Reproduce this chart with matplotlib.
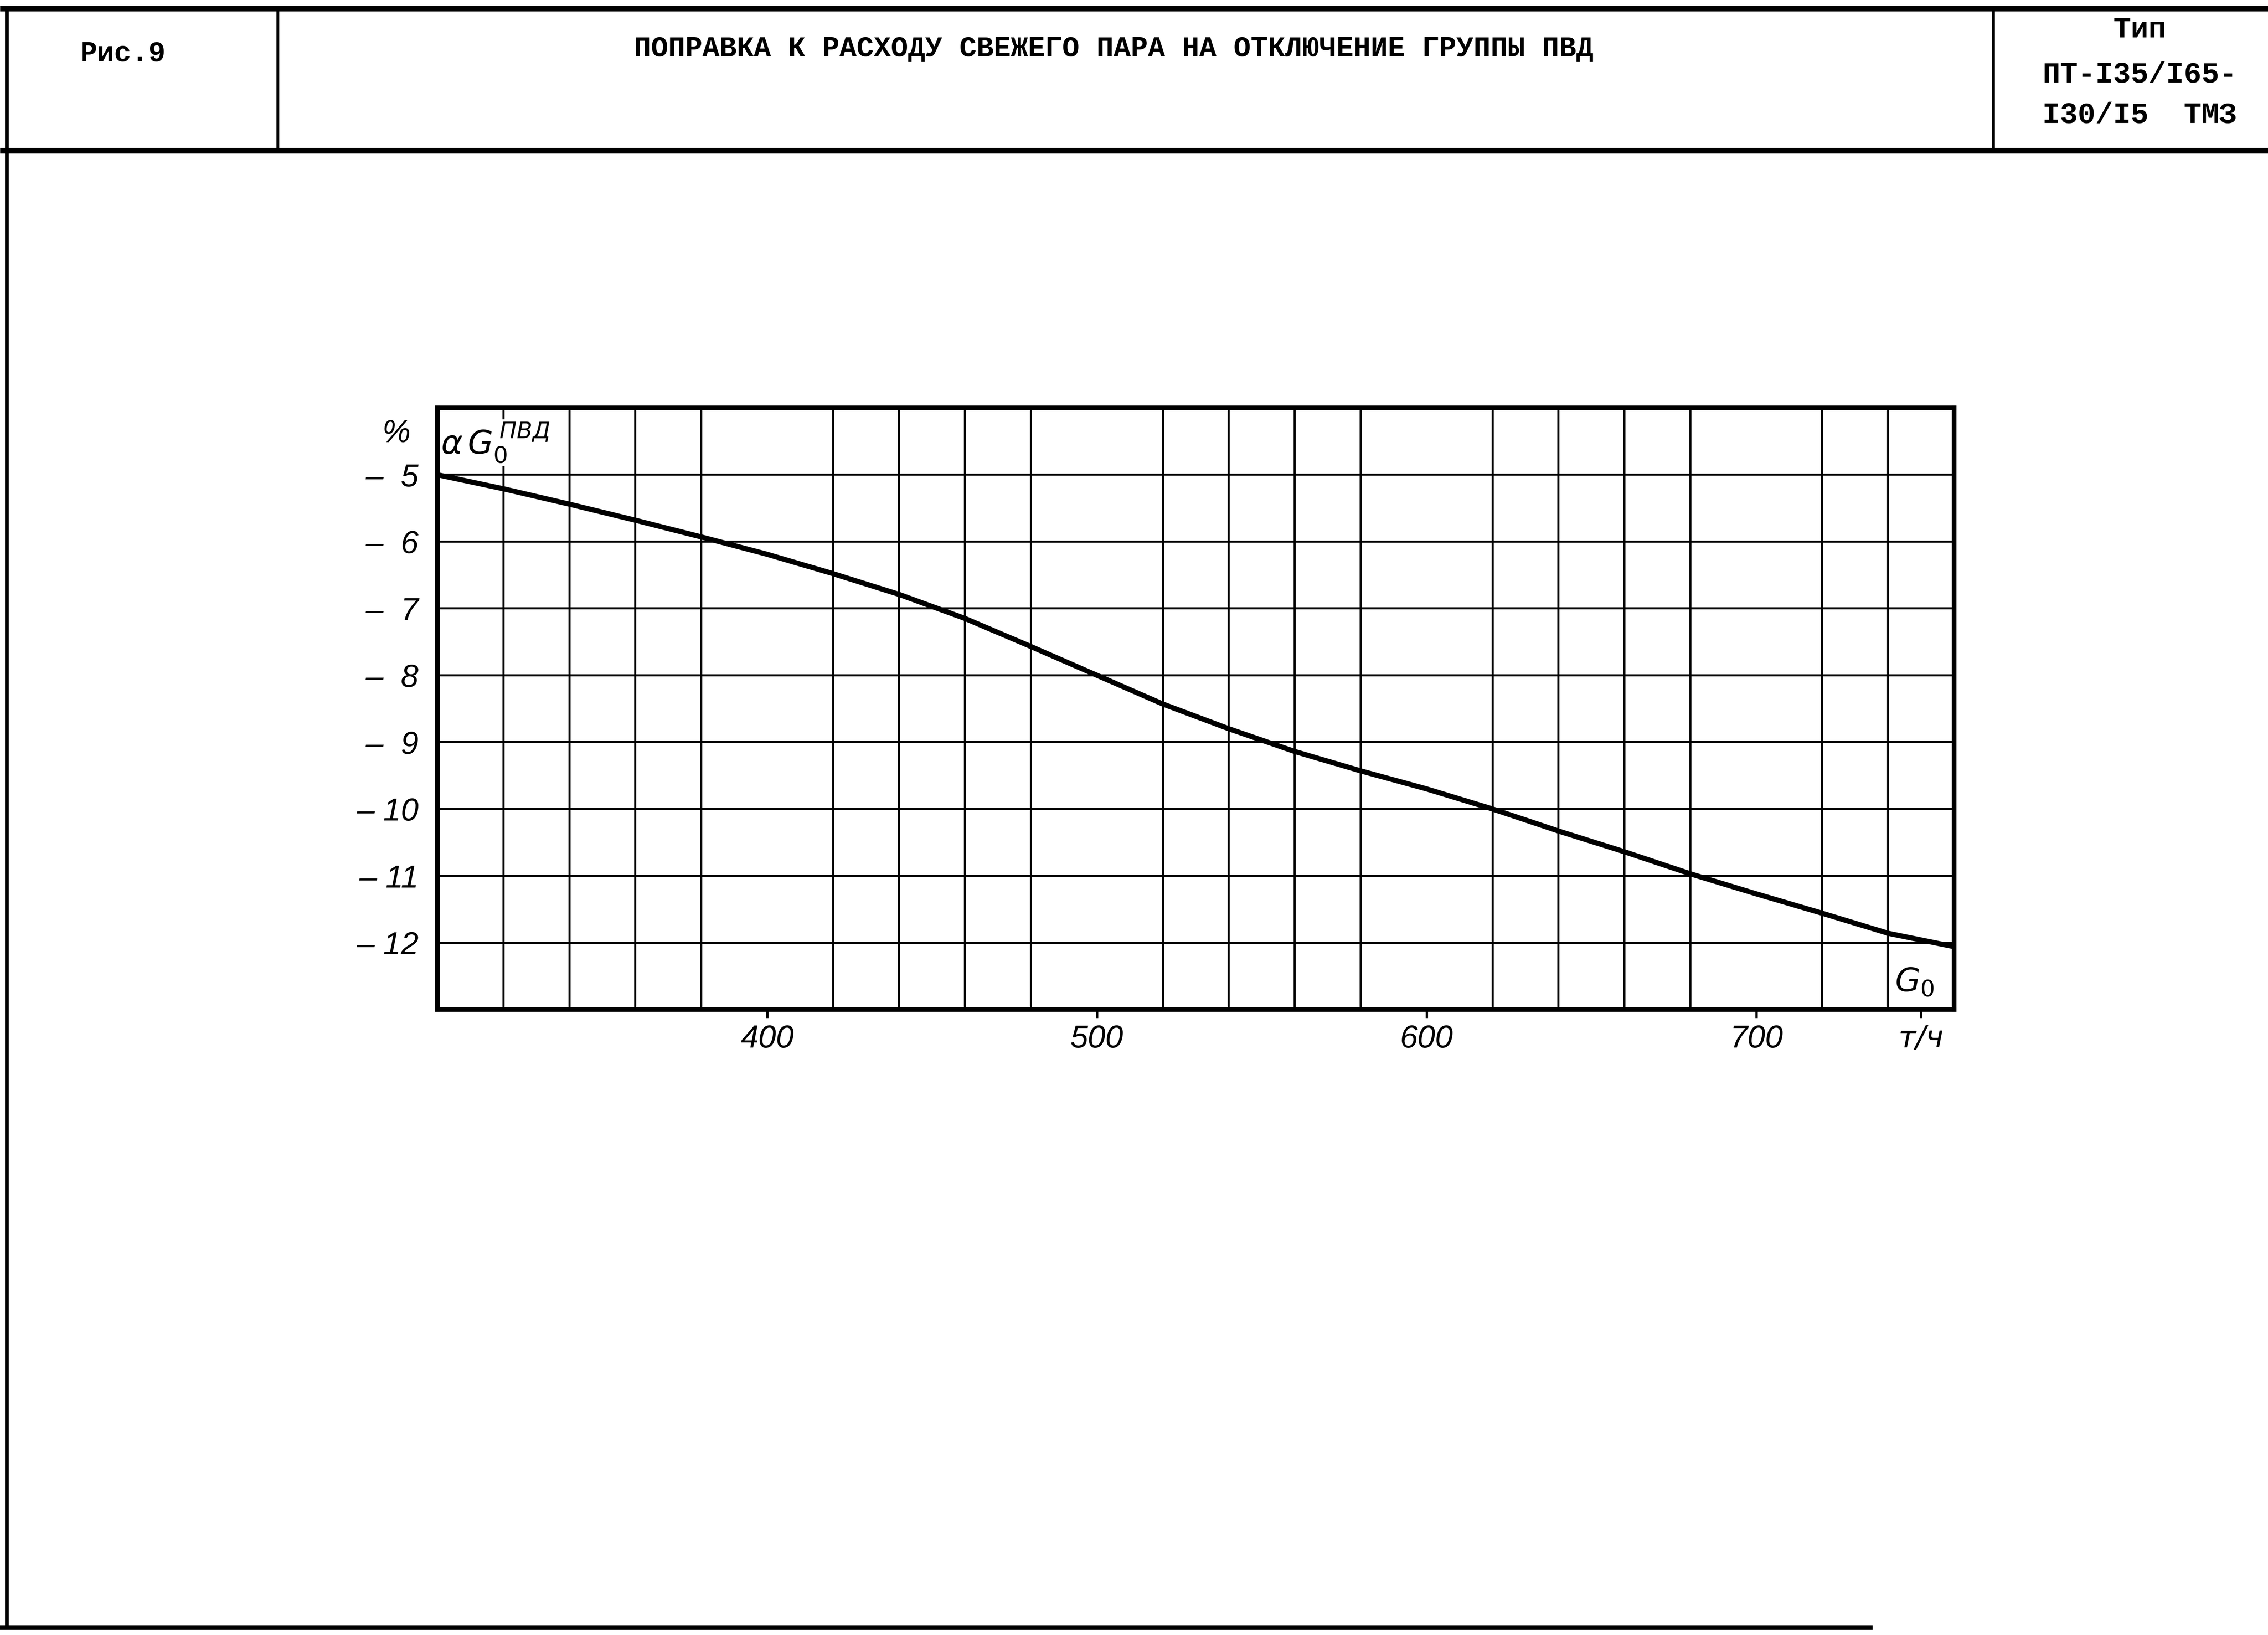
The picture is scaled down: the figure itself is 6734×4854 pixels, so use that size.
import matplotlib
matplotlib.use('Agg')
import matplotlib.pyplot as plt
from matplotlib.lines import Line2D
from matplotlib import ticker

# кривая поправки
g0 = [300, 320, 340, 360, 380, 400, 420, 440, 460, 480, 500, 520,
      540, 560, 580, 600, 620, 640, 660, 680, 700, 720, 740, 760]
dg0 = [-5.0, -5.21, -5.44, -5.68, -5.93, -6.19, -6.48, -6.79, -7.15, -7.57, -8.0, -8.43,
       -8.80, -9.14, -9.43, -9.70, -10.0, -10.33, -10.64, -10.97, -11.27, -11.56, -11.86, -12.06]

xticks = [400, 500, 600, 700, 750]
xticklabels = ['400', '500', '600', '700', 'т/ч']
yticks = [-5, -6, -7, -8, -9, -10, -11, -12]
yticklabels = ['–  5', '–  6', '–  7', '–  8', '–  9', '– 10', '– 11', '– 12']

title = 'ПОПРАВКА К РАСХОДУ СВЕЖЕГО ПАРА НА ОТКЛЮЧЕНИЕ ГРУППЫ ПВД'
fig_no = 'Рис.9'
type_lines = ['Тип', 'ПТ-I35/I65-', 'I30/I5  ТМЗ']

plt.rcParams['mathtext.fontset'] = 'dejavusans'

W, H = 6735, 4854
fig = plt.figure(figsize=(W / 100, H / 100), dpi=100)

def fx(px):
    return px / W

def fy(py):
    return 1 - py / H

# рамка штампа
def fline(x0, y0, x1, y1, lw):
    fig.add_artist(Line2D([fx(x0), fx(x1)], [fy(y0), fy(y1)], transform=fig.transFigure,
                          color='black', lw=lw, solid_capstyle='butt'))

fline(0, 25, W, 25, 12)
fline(0, 447, W, 447, 12)
fline(825, 25, 825, 447, 6)
fline(5919, 25, 5919, 447, 6)
fline(20, 25, 20, 4832, 8)
fline(0, 4832, 5560, 4832, 10)

mono = 'Liberation Mono'
fig.text(fx(365), fy(160), fig_no, family=mono, weight='bold', fontsize=61, ha='center', va='center')
fig.text(fx(3307), fy(145), title, family=mono, weight='bold', fontsize=61, ha='center', va='center')
for txt, py in zip(type_lines, [88, 222, 342]):
    fig.text(fx(6353), fy(py), txt, family=mono, weight='bold', fontsize=63, ha='center', va='center')

# поле графика
ax = fig.add_axes([fx(1299), fy(2997), fx(5802) - fx(1299), fy(1211) - fy(2997)])
ax.set_xlim(300, 760)
ax.set_ylim(-13, -4)

ax.set_xticks(xticks)
ax.set_xticklabels(xticklabels)
ax.xaxis.set_minor_locator(ticker.MultipleLocator(20))
ax.set_yticks(yticks)
ax.set_yticklabels(yticklabels)

hand = dict(family='Liberation Sans', style='italic')
for lab in ax.get_xticklabels() + ax.get_yticklabels():
    lab.set_fontfamily('Liberation Sans')
    lab.set_fontstyle('italic')
    lab.set_fontsize(68)
# у «т/ч» наклонный, а не курсивный вид
ax.get_xticklabels()[-1].set_fontfamily('DejaVu Sans')
ax.get_xticklabels()[-1].set_fontsize(64)

ax.tick_params(axis='x', which='major', length=18, width=5, pad=14, direction='out')
ax.tick_params(axis='x', which='minor', length=0)
ax.tick_params(axis='y', length=0, pad=40)

ax.grid(True, axis='x', which='minor', color='black', lw=4.5)
ax.grid(True, axis='y', which='major', color='black', lw=4.5)
ax.set_axisbelow(True)
for sp in ax.spines.values():
    sp.set_linewidth(10)

ax.plot(g0, dg0, color='black', lw=11, solid_capstyle='round', solid_joinstyle='round', zorder=3)

ax.text(-0.018, 0.957, '%', transform=ax.transAxes, ha='right', va='center', fontsize=68, **hand)
ax.text(301, -4.52, r'$\alpha\, G_0^{\,ПВД}$', ha='left', va='center', fontsize=70,
        bbox=dict(facecolor='white', edgecolor='none', pad=4), zorder=2)
ax.text(748, -12.6, r'$G_0$', ha='center', va='center', fontsize=70,
        bbox=dict(facecolor='white', edgecolor='none', pad=2), zorder=2)

fig.savefig('out.png', dpi=100, facecolor='white')
